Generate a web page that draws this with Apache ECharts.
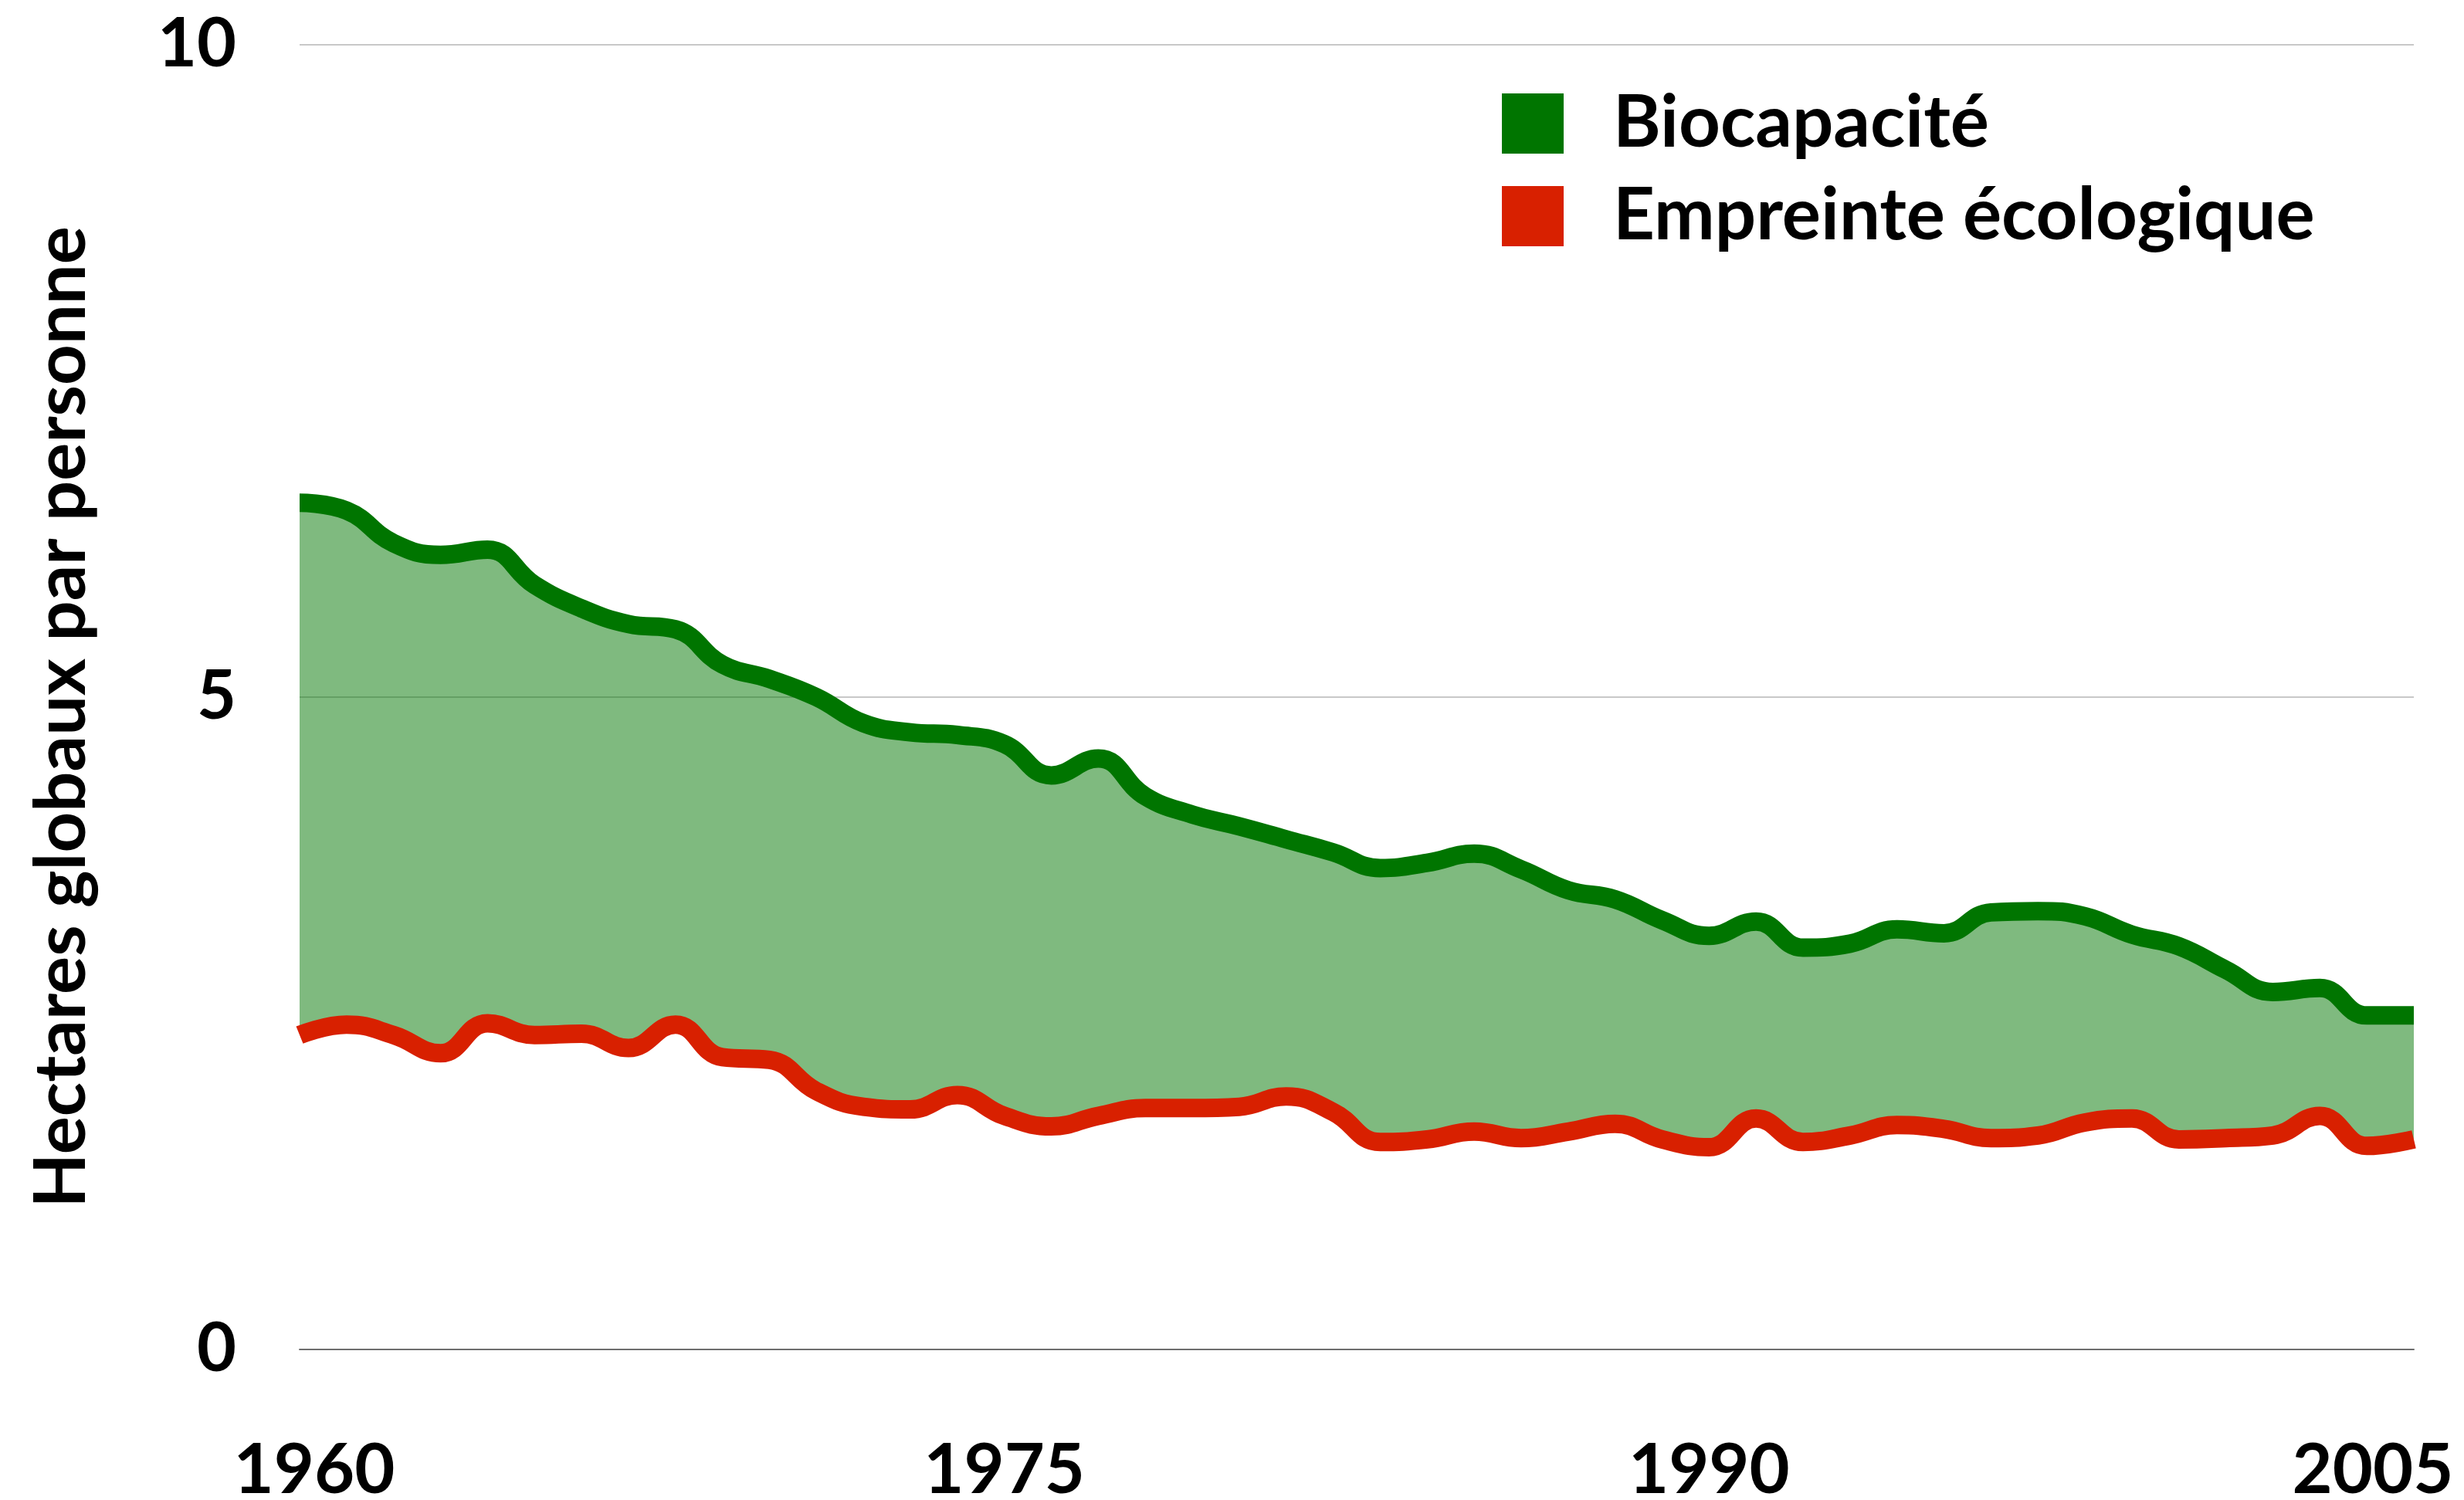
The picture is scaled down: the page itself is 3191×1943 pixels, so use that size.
<!DOCTYPE html>
<html>
<head>
<meta charset="utf-8">
<script src="https://cdn.jsdelivr.net/npm/echarts@6/dist/echarts.min.js"></script>
<style>
html,body{margin:0;padding:0;background:#fff;}
#chart{width:3191px;height:1943px;}
</style>
</head>
<body>
<div id="chart"></div>
<script>
var years = [];
for (var y = 1960; y <= 2005; y++) years.push(String(y));

var biocapacite = [6.49,6.43,6.18,6.09,6.13,5.86,5.68,5.56,5.52,5.25,5.14,5.00,
  4.80,4.73,4.71,4.64,4.40,4.53,4.24,4.10,4.01,3.91,3.81,3.69,
  3.73,3.80,3.68,3.52,3.45,3.29,3.17,3.28,3.08,3.11,3.22,3.19,
  3.35,3.36,3.32,3.18,3.09,2.91,2.74,2.77,2.56,2.56];
var empreinte = [2.41,2.49,2.41,2.27,2.50,2.41,2.42,2.31,2.49,2.24,2.22,1.98,
  1.86,1.84,1.95,1.79,1.71,1.79,1.85,1.85,1.86,1.94,1.82,1.59,
  1.61,1.67,1.62,1.67,1.73,1.61,1.55,1.77,1.59,1.64,1.72,1.69,
  1.62,1.64,1.74,1.77,1.61,1.62,1.64,1.79,1.56,1.61];
var yTicks = [0, 5, 10];

// band between the two curves = green minus red, stacked on red
var ecart = biocapacite.map(function(v, i){ return +(v - empreinte[i]).toFixed(2); });

var GREEN = '#007500', RED = '#d82000';
var FONT = 'Lato';
var SM = 0.45;

var myChart = echarts.init(document.getElementById('chart'));
option = {
  animation: false,
  grid: {left: 388, right: 65, top: 58, bottom: 195, outerBoundsMode: 'none'},
  legend: {
    orient: 'vertical',
    left: 1940, top: 108,
    itemWidth: 80, itemHeight: 78, itemGap: 26,
    icon: 'rect',
    data: ['Biocapacité', 'Empreinte écologique'],
    textStyle: {fontFamily: FONT, fontWeight: 'bold', fontSize: 94, lineHeight: 80, color: '#000', padding: [0,0,0,59]}
  },
  xAxis: {
    type: 'category',
    data: years,
    boundaryGap: false,
    axisTick: {show: false},
    axisLine: {lineStyle: {color: '#6e6e6e', width: 2}},
    axisLabel: {
      interval: 14,
      margin: 112,
      color: '#000',
      fontFamily: FONT, fontWeight: 'bold', fontSize: 90,
      formatter: function(v){
        if (v === '1960') return '{a|' + v + '}';
        if (v === '2005') return '{b|' + v + '}';
        return v;
      },
      rich: {
        a: {fontFamily: FONT, fontWeight: 'bold', fontSize: 90, color: '#000', padding: [0,0,0,38]},
        b: {fontFamily: FONT, fontWeight: 'bold', fontSize: 90, color: '#000', padding: [0,106,0,0]}
      }
    },
    splitLine: {show: false}
  },
  yAxis: {
    type: 'value',
    min: yTicks[0], max: yTicks[2], interval: 5,
    name: 'Hectares globaux par personne',
    nameLocation: 'middle',
    nameRotate: 90,
    nameGap: 262,
    nameTextStyle: {fontFamily: FONT, fontWeight: 'bold', fontSize: 92, color: '#000', padding: [0,52,0,0]},
    axisLine: {show: false},
    axisTick: {show: false},
    axisLabel: {margin: 82, color: '#000', fontFamily: FONT, fontWeight: 'bold', fontSize: 88},
    splitLine: {lineStyle: {color: '#c8c8c8', width: 2}}
  },
  series: [
    {
      name: 'base', type: 'line', stack: 'band', data: empreinte,
      smooth: SM, showSymbol: false, lineStyle: {width: 0}, silent: true
    },
    {
      name: 'bande', type: 'line', stack: 'band', data: ecart,
      smooth: SM, showSymbol: false, lineStyle: {width: 0}, silent: true,
      areaStyle: {color: GREEN, opacity: 0.5}
    },
    {
      name: 'Biocapacité', type: 'line', data: biocapacite,
      smooth: SM, showSymbol: false,
      itemStyle: {color: GREEN},
      lineStyle: {color: GREEN, width: 24, cap: 'butt'}
    },
    {
      name: 'Empreinte écologique', type: 'line', data: empreinte,
      smooth: SM, showSymbol: false,
      itemStyle: {color: RED},
      lineStyle: {color: RED, width: 24, cap: 'butt'}
    }
  ]
};
myChart.setOption(option);
</script>
</body>
</html>
